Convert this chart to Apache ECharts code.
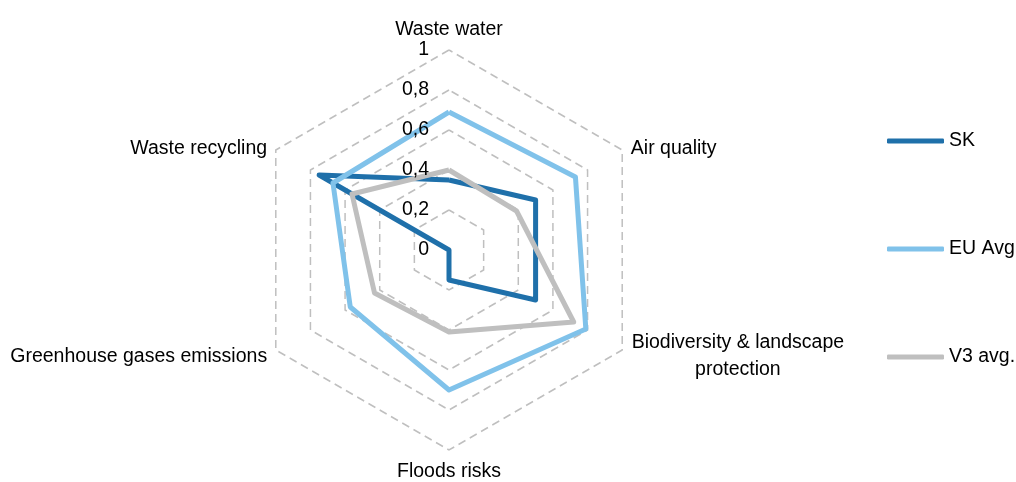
<!DOCTYPE html>
<html>
<head>
<meta charset="utf-8">
<script src="https://cdn.jsdelivr.net/npm/echarts@6/dist/echarts.min.js"></script>
<style>
html,body{margin:0;padding:0;background:#fff;}
#chart{width:1016px;height:482px;}
</style>
</head>
<body>
<div id="chart"></div>
<script>
// Categories in clockwise order from top (as in the reference)
const categories = ['Waste water', 'Air quality', 'Biodiversity & landscape protection', 'Floods risks', 'Greenhouse gases emissions', 'Waste recycling'];
const seriesNames = ['SK', 'EU Avg', 'V3 avg.'];
const skValues = [0.35, 0.50, 0.50, 0.15, 0.00, 0.75];
const euValues = [0.69, 0.73, 0.79, 0.70, 0.57, 0.67];
const v3Values = [0.40, 0.39, 0.72, 0.41, 0.43, 0.56];
const axisMin = 0, axisMax = 1, axisSplits = 5;

const colors = ['#1F70AA', '#80C2EA', '#BFBFBF'];
const FONT = '"Liberation Sans", Arial, sans-serif';
const FS = 19.5;

// ECharts radar places indicators counter-clockwise; reorder to get clockwise layout
const order = [0, 5, 4, 3, 2, 1];
const reorder = arr => order.map(i => arr[i]);

const baseIndicators = reorder(categories).map(name => ({ name: name, min: axisMin, max: axisMax }));
const labelIndicators = reorder(categories).map((name, k) => {
  const ind = { name: name, min: axisMin, max: axisMax };
  ind.axisLabel = k === 0 ? {
    show: true,
    color: '#000',
    fontSize: FS,
    fontFamily: FONT,
    margin: 20,
    formatter: v => String(+v.toFixed(1)).replace('.', ',')
  } : { show: false };
  return ind;
});

const nameStyle = { fontSize: FS, fontFamily: FONT, color: '#000' };
const nameRich = {
  up: Object.assign({ padding: [8, 0, 0, 0] }, nameStyle),
  lo: Object.assign({ padding: [4, 0, 0, 0] }, nameStyle),
  bt: Object.assign({ padding: [2, 0, 0, 0] }, nameStyle),
  tp: Object.assign({}, nameStyle),
  bio: Object.assign({ width: 214, align: 'center', lineHeight: 27, padding: [2, 0, 0, 0] }, nameStyle)
};

const radarCommon = {
  center: [449, 250],
  radius: 200,
  startAngle: 90,
  shape: 'polygon',
  splitNumber: axisSplits,
  nameGap: 10,
  axisLine: { show: false },
  axisTick: { show: false },
  splitArea: { show: false }
};

const chart = echarts.init(document.getElementById('chart'), null, { renderer: 'canvas' });
chart.setOption({
  animation: false,
  backgroundColor: '#fff',
  color: colors,
  legend: {
    orient: 'vertical',
    left: 887,
    top: 131,
    padding: 0,
    itemGap: 88,
    itemWidth: 57,
    itemHeight: 5,
    icon: 'roundRect',
    textStyle: { color: '#000', fontSize: FS, fontFamily: FONT },
    data: seriesNames
  },
  radar: [
    Object.assign({}, radarCommon, {
      z: 1,
      indicator: baseIndicators,
      axisLabel: { show: false },
      axisName: {
        color: '#000',
        fontSize: FS,
        fontFamily: FONT,
        formatter: function (name) {
          if (name === 'Biodiversity & landscape protection') {
            return '{bio|Biodiversity & landscape}\n{bio|protection}';
          }
          if (name === 'Air quality' || name === 'Waste recycling') return '{up|' + name + '}';
          if (name === 'Greenhouse gases emissions') return '{lo|' + name + '}';
          if (name === 'Floods risks') return '{bt|' + name + '}';
          return '{tp|' + name + '}';
        },
        rich: nameRich
      },
      splitLine: { lineStyle: { color: '#BFBFBF', width: 1.5, type: [8, 5] } }
    }),
    Object.assign({}, radarCommon, {
      z: 10,
      indicator: labelIndicators,
      axisName: { show: false },
      axisLabel: { show: false },
      splitLine: { show: false }
    })
  ],
  series: [{
    type: 'radar',
    radarIndex: 0,
    z: 2,
    symbol: 'none',
    data: [
      { name: seriesNames[0], value: reorder(skValues), lineStyle: { width: 5, color: colors[0] }, itemStyle: { color: colors[0] } },
      { name: seriesNames[1], value: reorder(euValues), lineStyle: { width: 5, color: colors[1] }, itemStyle: { color: colors[1] } },
      { name: seriesNames[2], value: reorder(v3Values), lineStyle: { width: 5, color: colors[2] }, itemStyle: { color: colors[2] } }
    ]
  }]
});
</script>
</body>
</html>
